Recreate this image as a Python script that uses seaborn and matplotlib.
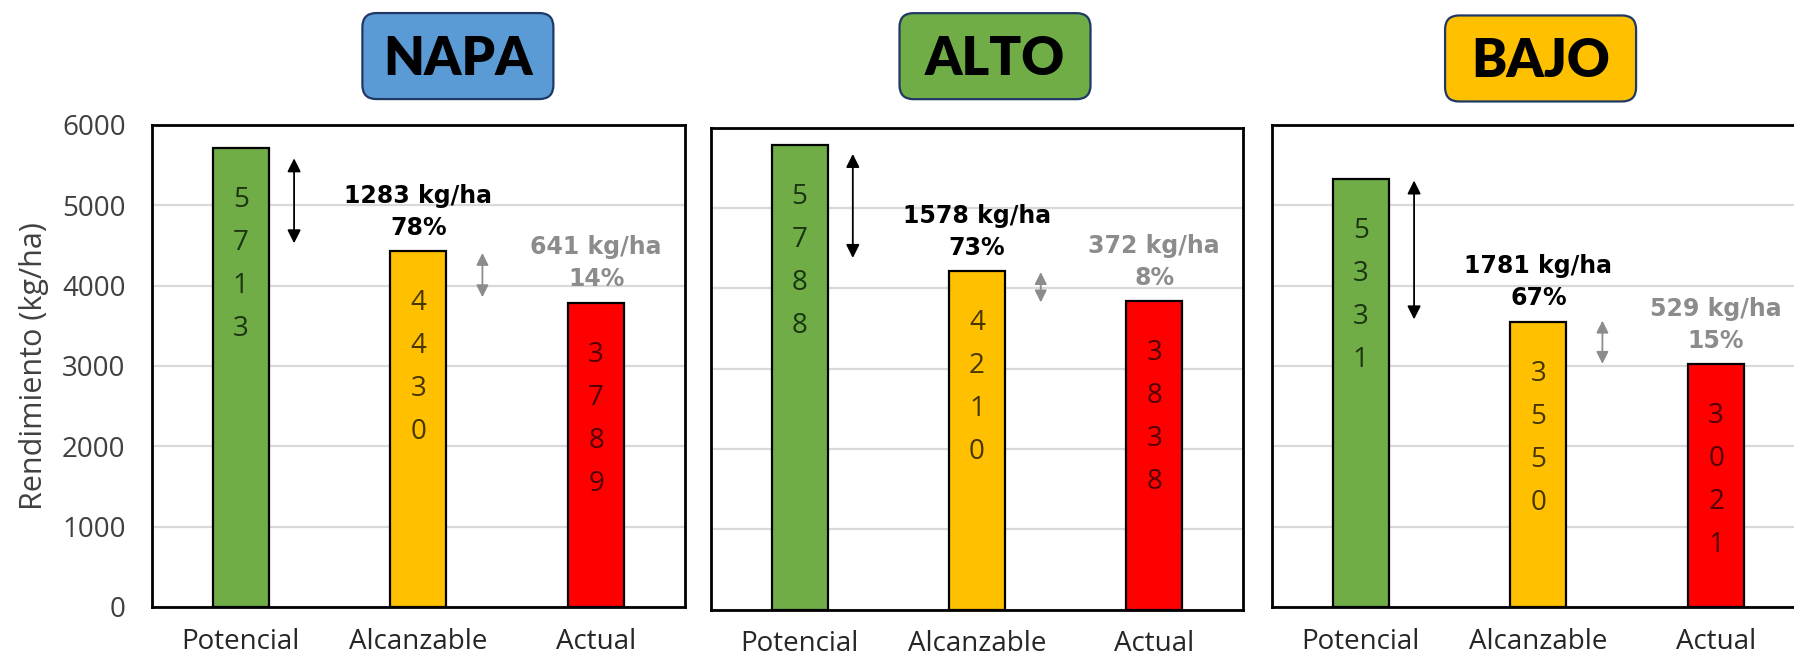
import matplotlib
matplotlib.use("Agg")
import matplotlib.pyplot as plt
import pandas as pd
import seaborn as sns
from matplotlib.patches import FancyBboxPatch
from matplotlib.transforms import IdentityTransform

# --- data -----------------------------------------------------------------
zonas = ["NAPA", "ALTO", "BAJO"]
escenarios = ["Potencial", "Alcanzable", "Actual"]
rend_napa = [5713, 4430, 3789]
rend_alto = [5788, 4210, 3838]
rend_bajo = [5331, 3550, 3021]
pct_alcanzable = ["78%", "73%", "67%"]
pct_actual = ["14%", "8%", "15%"]
yticks = [0, 1000, 2000, 3000, 4000, 5000, 6000]

# --- styles ---------------------------------------------------------------
colores_barra = {"Potencial": "#70ad47", "Alcanzable": "#ffc000", "Actual": "#ff0000"}
colores_digito = {"Potencial": "#1b3510", "Alcanzable": "#473600", "Actual": "#500000"}
colores_zona = {"NAPA": "#5b9bd5", "ALTO": "#70ad47", "BAJO": "#ffc000"}
gris = "#8c8c8c"

sns.set_style("white")
plt.rcParams["font.family"] = ["Open Sans", "DejaVu Sans"]

fig = plt.figure(figsize=(17.94, 6.62), dpi=100)
rects = [
    (0.0847, 0.0831, 0.2971, 0.7281),
    (0.3963, 0.0793, 0.2965, 0.7281),
    (0.7090, 0.0831, 0.2971, 0.7281),
]
# title box centre in axes fraction
titulo_pos = [(0.574, 1.143), (0.534, 1.148), (0.504, 1.138)]
# arrow end paddings (kg/ha) between the bar tops and the arrow tips
pad_negra = [(128, 97), (117, 166), (22, 30)]
pad_gris = [(23, 67), (10, -15), (-14, 6)]

series = [rend_napa, rend_alto, rend_bajo]

for i, (zona, valores) in enumerate(zip(zonas, series)):
    ax = fig.add_axes(rects[i])
    df = pd.DataFrame({"Escenario": escenarios, "Rendimiento": valores})
    sns.barplot(
        data=df, x="Escenario", y="Rendimiento", hue="Escenario",
        order=escenarios, hue_order=escenarios, palette=colores_barra,
        width=0.315, edgecolor="black", linewidth=1.6, saturation=1,
        legend=False, ax=ax,
    )
    ax.set_xlim(-0.5, 2.5)
    ax.set_ylim(0, 6000)
    ax.set_yticks(yticks)
    ax.set_axisbelow(True)
    ax.yaxis.grid(True, color="#d9d9d9", lw=1.6)
    ax.xaxis.grid(False)
    for sp in ax.spines.values():
        sp.set_visible(True)
        sp.set_color("black")
        sp.set_linewidth(2.0)
    ax.set_xlabel("")
    ax.tick_params(axis="x", length=0, pad=15, labelsize=20, labelcolor="#262626")
    ax.tick_params(axis="y", length=0, pad=19, labelsize=20, labelcolor="#404040")
    if i == 0:
        ax.set_ylabel("Rendimiento (kg/ha)", fontsize=22, color="#404040")
        ax.yaxis.set_label_coords(-0.193, 0.5)
    else:
        ax.set_ylabel("")
        ax.set_yticklabels([])

    # vertical digits inside every bar
    for j, (esc, v) in enumerate(zip(escenarios, valores)):
        for k, d in enumerate(str(v)):
            ax.annotate(d, xy=(j, v), xytext=(0, -(59 + 43 * k)),
                        textcoords="offset pixels", ha="center", va="baseline",
                        fontsize=20, color=colores_digito[esc])

    pot, alc, act = valores
    # gap potencial -> alcanzable
    ax.annotate("", xy=(0.30, alc + pad_negra[i][1]), xytext=(0.30, pot - pad_negra[i][0]),
                arrowprops=dict(arrowstyle="<|-|>", color="black", lw=1.3,
                                mutation_scale=20, shrinkA=0, shrinkB=0))
    ax.annotate(pct_alcanzable[i], xy=(1, alc), xytext=(0, 16.5), textcoords="offset pixels",
                ha="center", va="baseline", fontsize=17, fontweight="bold",
                color="black", family="DejaVu Sans")
    ax.annotate(f"{pot - alc} kg/ha", xy=(1, alc), xytext=(0, 48.5), textcoords="offset pixels",
                ha="center", va="baseline", fontsize=17, fontweight="bold",
                color="black", family="DejaVu Sans")
    # gap alcanzable -> actual
    ax.annotate("", xy=(1.36, act + pad_gris[i][1]), xytext=(1.36, alc - pad_gris[i][0]),
                arrowprops=dict(arrowstyle="<|-|>", color=gris, lw=1.3,
                                mutation_scale=18, shrinkA=0, shrinkB=0))
    ax.annotate(pct_actual[i], xy=(2, act), xytext=(0, 16.5), textcoords="offset pixels",
                ha="center", va="baseline", fontsize=17, fontweight="bold",
                color=gris, family="DejaVu Sans")
    ax.annotate(f"{alc - act} kg/ha", xy=(2, act), xytext=(0, 48.5), textcoords="offset pixels",
                ha="center", va="baseline", fontsize=17, fontweight="bold",
                color=gris, family="DejaVu Sans")

    # zone title in a rounded box above the panel
    cx, cy = ax.transAxes.transform(titulo_pos[i])
    w, h = 191, 86
    caja = FancyBboxPatch((cx - w / 2, cy - h / 2), w, h,
                          boxstyle="round,pad=0,rounding_size=14",
                          transform=IdentityTransform(), fc=colores_zona[zona],
                          ec="#1f3864", lw=1.6, zorder=2)
    fig.add_artist(caja)
    fig.text(cx, cy - 19, zona, transform=IdentityTransform(), ha="center",
             va="baseline", fontsize=38, fontweight="heavy", color="black",
             family=["Lato", "DejaVu Sans"], zorder=3)

fig.savefig("out.png", dpi=100)
